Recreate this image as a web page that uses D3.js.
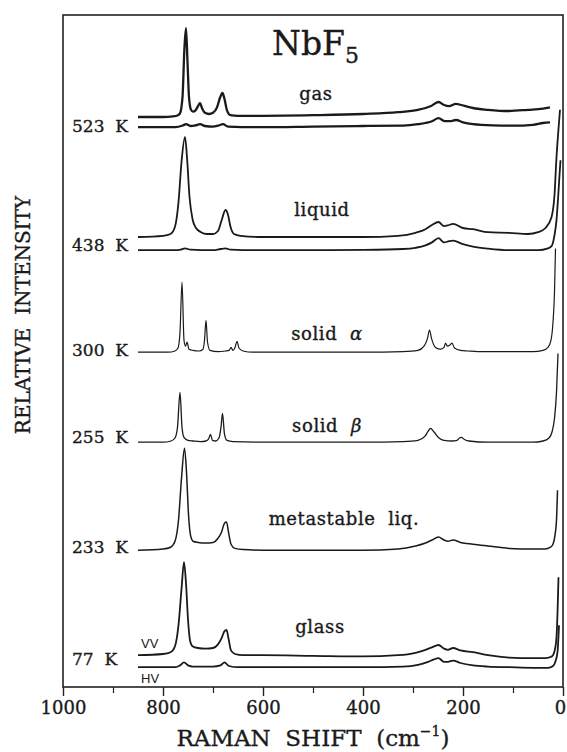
<!DOCTYPE html>
<html>
<head>
<meta charset="utf-8">
<script src="https://cdn.jsdelivr.net/npm/d3@7"></script>
<style>
    body { margin: 0; background: #fff; }
    text { font-family: "DejaVu Serif", serif; fill: #1a1a1a; stroke: #1a1a1a; stroke-width: 0.35px; white-space: pre; }
</style>
</head>
<body>
<div id="chart" style="width:567px;height:752px"></div>
<script>

// ---- data: [raman shift cm-1, relative intensity] ----
const xTicks = [1000, 800, 600, 400, 200, 0];
const xMinorTicks = [900, 700, 500, 300, 100];

const tempLabels = ["523  K", "438  K", "300  K", "255  K", "233  K", "77  K"];
const phaseLabels = ["gas", "liquid", "solid", "solid", "metastable  liq.", "glass"];
const phaseGreek = ["", "", "α", "β", "", ""];

// vertical offset of every trace (same units as intensity)
const traceOffsets = [95, 93.3, 75, 72.8, 55.8, 40.8, 22.8, 5.3, 3.3];

const gasVV = [[850,0],[800,0],[780,0.1],[770,0.3],[766,0.6],[761,3.3],[757,11.7],[754,14.8],[751,9.2],[748,3.3],[744,1.2],[740,0.9],
    [735,1.1],[730,1.8],[726,2.3],[722,1.5],[716,0.7],[708,0.5],[700,0.7],[692,1.6],[686,3.2],[681,4],[677,3],[672,1.1],[665,0.3],
    [650,0.2],[600,0.2],[500,0.3],[400,0.5],[330,0.8],[290,1.2],[265,1.8],[249,2.5],[238,2],[228,1.8],[214,2.2],[204,2],[190,1.7],
    [180,1.5],[150,1.2],[108,1],[70,1.2],[40,1.4],[26,1.6]];
const gasHV = [[850,0],[775,0],[760,0.3],[754,0.5],[745,0.2],[735,0.3],[726,0.5],[716,0.2],[700,0.1],[690,0.25],[680,0.5],[670,0.1],
    [600,0],[500,0.1],[400,0.2],[320,0.25],[290,0.5],[262,1],[249,1.5],[236,1],[226,1],[214,1.2],[200,0.8],[180,0.5],[140,0.3],
    [100,0.25],[60,0.4],[40,0.7],[26,0.8]];
const liquidVV = [[850,0],[800,0.2],[785,0.5],[776,1.7],[769,5.8],[763,12.5],[756,16.7],[752,13.3],[747,6.7],[741,3],[734,1.5],
    [724,0.8],[712,0.5],[700,0.5],[690,1],[683,2.7],[675,4.5],[670,3.7],[665,1.7],[658,0.5],[645,0.2],[600,0],[500,0],[400,0],
    [330,0.2],[295,0.7],[275,1.3],[262,2],[249,2.5],[238,1.8],[228,2],[220,2.2],[200,1.5],[180,1.3],[150,0.8],[108,0.7],[70,0.5],
    [50,0.8],[35,1.5],[23,3.3],[17,7],[13,13.3],[9,18],[6,21.2]];
const liquidHV = [[850,0],[775,0],[765,0.1],[756,0.3],[745,0.1],[700,0],[685,0.2],[675,0.3],[665,0.1],[600,0],[500,0],[400,0.05],
    [320,0.2],[295,0.4],[275,0.8],[262,1.3],[249,2],[238,1.3],[228,1.5],[220,1.6],[200,1],[180,0.6],[150,0.25],[108,0],[50,0],
    [30,0.3],[22,0.8],[17,2.5],[13,5],[10,8.5],[7,12.5],[5,15]];
const solidAlpha = [[850,0],[790,0],[776,0.2],[770,0.7],[766,3.3],[762,11.7],[758,2],[755,1],[752,1.7],[748,0.5],[740,0.3],[728,0.2],
    [720,0.5],[717,2],[714,5.3],[711,1.7],[706,0.3],[690,0.1],[675,0.2],[668,0.3],[664,0.8],[660,0.3],[656,0.8],[652,1.8],[648,0.7],
    [640,0.2],[620,0],[500,0],[400,0],[320,0.1],[290,0.3],[278,1],[271,2.3],[267,3.7],[263,2.3],[255,0.8],[245,0.5],[238,0.8],
    [235,1.5],[231,1],[226,1.2],[222,1.5],[217,0.7],[205,0.3],[190,0.2],[170,0.1],[100,0.1],[60,0.1],[40,0.3],[30,0.8],[24,2],
    [20,5],[17,10],[15,17.3]];
const solidBeta = [[850,0],[800,0],[784,0.2],[776,0.7],[771,2.5],[766,8.3],[762,2.5],[758,0.8],[750,0.3],[740,0.2],[725,0.1],
    [714,0.2],[709,0.5],[705,1.3],[701,0.3],[695,0.2],[688,0.7],[684,2.5],[681,4.8],[677,1.3],[672,0.3],[660,0.1],[600,0],[400,0],
    [320,0.1],[290,0.3],[276,1],[270,1.8],[265,2.3],[258,1.7],[248,0.7],[238,0.3],[222,0.2],[212,0.3],[207,0.7],[203,0.8],
    [198,0.5],[188,0.2],[150,0],[100,0],[60,0],[40,0.2],[28,0.7],[22,1.7],[17,4],[13,8.3],[10,14.8]];
const metaLiq = [[850,0],[800,0.2],[785,0.5],[776,1.5],[769,5],[763,12],[757,17],[753,13],[749,6],[745,2.5],[740,1.5],[730,1.3],
    [715,1.2],[700,1.3],[690,2],[683,3],[677,4.5],[673,4.7],[669,3],[664,1],[656,0.3],[640,0.1],[600,0],[500,0],[400,0],[330,0.2],
    [295,0.7],[275,1.2],[262,1.7],[249,2.2],[238,1.7],[230,1.5],[220,1.7],[205,1.3],[180,1],[150,0.7],[108,0.3],[60,0.2],[36,0.2],
    [25,0.5],[20,1],[16,2.5],[13,5],[11,10]];
const glassVV = [[850,0],[800,0.2],[785,0.5],[776,1.5],[769,5],[763,11],[758,15.5],[754,12],[750,6],[746,2.5],[741,1.5],[730,1.2],
    [715,1.1],[700,1.2],[690,1.8],[683,2.8],[677,4],[673,4.2],[669,2.8],[664,0.8],[656,0.2],[640,0],[600,0],[500,-0.1],[400,-0.2],
    [330,0],[295,0.4],[275,0.9],[262,1.3],[249,1.7],[238,1.1],[230,0.9],[220,1.2],[205,0.8],[180,0.5],[150,0],[108,-0.4],[60,-0.5],
    [36,-0.5],[25,-0.3],[20,0],[16,1],[13,3],[11,7],[9,13]];
const glassHV = [[850,0],[775,0],[766,0.3],[758,0.8],[750,0.3],[740,0.1],[700,0.1],[685,0.3],[677,0.8],[668,0.2],[650,0],[500,0],
    [400,0],[320,0.1],[290,0.4],[270,0.9],[258,1.3],[249,1.5],[238,0.9],[230,0.9],[220,1.1],[205,0.7],[180,0.3],[150,0.1],[108,0],
    [60,-0.1],[30,-0.1],[20,0.2],[15,1],[11,2.5],[8,7]];

const traces = [gasVV, gasHV, liquidVV, liquidHV, solidAlpha, solidBeta, metaLiq, glassVV, glassHV];
const traceWidths = [2.3, 2.3, 1.8, 1.8, 1.2, 1.3, 1.5, 1.8, 1.8];


class SpectraVis {

    constructor(parentElement) {
        this.parentElement = parentElement;
        this.initVis();
    }

    initVis() {
        let vis = this;

        vis.margin = {top: 15, right: 4, bottom: 65, left: 63};
        vis.width = 567 - vis.margin.left - vis.margin.right;
        vis.height = 752 - vis.margin.top - vis.margin.bottom;

        vis.root = d3.select("#" + vis.parentElement).append("svg")
            .attr("width", 567)
            .attr("height", 752);

        vis.svg = vis.root.append("g")
            .attr("transform", `translate(${vis.margin.left}, ${vis.margin.top})`);

        // scales - shift axis runs backwards like the paper
        vis.x = d3.scaleLinear().domain([1000, 0]).range([0, vis.width]);
        vis.y = d3.scaleLinear().domain([0, 112]).range([vis.height, 0]);

        // frame
        vis.svg.append("rect")
            .attr("width", vis.width)
            .attr("height", vis.height)
            .attr("fill", "none")
            .attr("stroke", "#222")
            .attr("stroke-width", 1.6);

        // axis
        let xAxis = vis.svg.append("g")
            .attr("class", "axis x-axis")
            .attr("transform", `translate(0, ${vis.height})`)
            .call(d3.axisBottom(vis.x).tickValues(xTicks).tickSize(9).tickPadding(5).tickFormat(d3.format("d")));
        xAxis.select(".domain").remove();
        xAxis.selectAll("line").attr("stroke", "#222").attr("stroke-width", 1.4);
        xAxis.selectAll("text")
            .style("font-family", "DejaVu Serif")
            .style("font-size", "18px")
            .attr("fill", "#1a1a1a")
            .attr("dx", d => d === 0 ? -3 : 0);   // keep the last "0" inside the page

        let xMinor = vis.svg.append("g")
            .attr("transform", `translate(0, ${vis.height})`)
            .call(d3.axisBottom(vis.x).tickValues(xMinorTicks).tickSize(6).tickFormat(""));
        xMinor.select(".domain").remove();
        xMinor.selectAll("line").attr("stroke", "#222").attr("stroke-width", 1.2);

        // spectra
        vis.svg.selectAll(".trace")
            .data(traces)
            .enter()
            .append("path")
            .attr("class", "trace")
            .attr("fill", "none")
            .attr("stroke", "#1a1a1a")
            .attr("stroke-linejoin", "round")
            .attr("stroke-width", (d, i) => traceWidths[i])
            .attr("d", (d, i) => d3.line()
                .x(p => vis.x(p[0]))
                .y(p => vis.y(traceOffsets[i] + p[1]))
                .curve(d3.curveMonotoneX)(d));

        // title
        let title = vis.root.append("text")
            .attr("x", 272)
            .attr("y", 55)
            .style("font-size", "33px");
        title.append("tspan").text("NbF");
        title.append("tspan").text("5").attr("dy", 8).style("font-size", "22px");

        // temperature labels
        let tempY = [132, 251, 356, 443, 553, 665];
        vis.root.selectAll(".temp")
            .data(tempLabels)
            .enter()
            .append("text")
            .attr("class", "temp")
            .attr("x", 72)
            .attr("y", (d, i) => tempY[i])
            .style("font-size", "17px")
            .text(d => d);

        // phase labels
        let phasePos = [[316, 100], [322, 216], [327, 340], [327, 432], [344, 525], [320, 633]];
        let phases = vis.root.selectAll(".phase")
            .data(phaseLabels)
            .enter()
            .append("text")
            .attr("class", "phase")
            .attr("x", (d, i) => phasePos[i][0])
            .attr("y", (d, i) => phasePos[i][1])
            .attr("text-anchor", "middle")
            .style("font-size", "18px")
            .style("letter-spacing", "0.6px");
        phases.append("tspan").text(d => d);
        phases.append("tspan")
            .text((d, i) => phaseGreek[i] ? "  " + phaseGreek[i] : "")
            .style("font-style", "italic");

        // polarisation tags on the glass traces
        vis.root.append("text").attr("x", 141).attr("y", 648)
            .style("font-family", "Liberation Sans").style("font-size", "13px").style("stroke-width", 0).text("VV");
        vis.root.append("text").attr("x", 141).attr("y", 683)
            .style("font-family", "Liberation Sans").style("font-size", "13px").style("stroke-width", 0).text("HV");

        // axis titles
        let xLabel = vis.root.append("text")
            .attr("x", vis.margin.left + vis.width / 2)
            .attr("y", 746)
            .attr("text-anchor", "middle")
            .style("font-size", "23px");
        xLabel.append("tspan").text("RAMAN  SHIFT  (cm");
        xLabel.append("tspan").text("−1").attr("dy", -10).style("font-size", "14px");
        xLabel.append("tspan").text(")").attr("dy", 10);

        vis.root.append("text")
            .attr("transform", "translate(23, 315) rotate(-90)")
            .attr("text-anchor", "middle")
            .attr("dy", "0.35em")
            .style("font-size", "20px")
            .text("RELATIVE  INTENSITY");
    }
}

new SpectraVis("chart");
</script>
</body>
</html>
